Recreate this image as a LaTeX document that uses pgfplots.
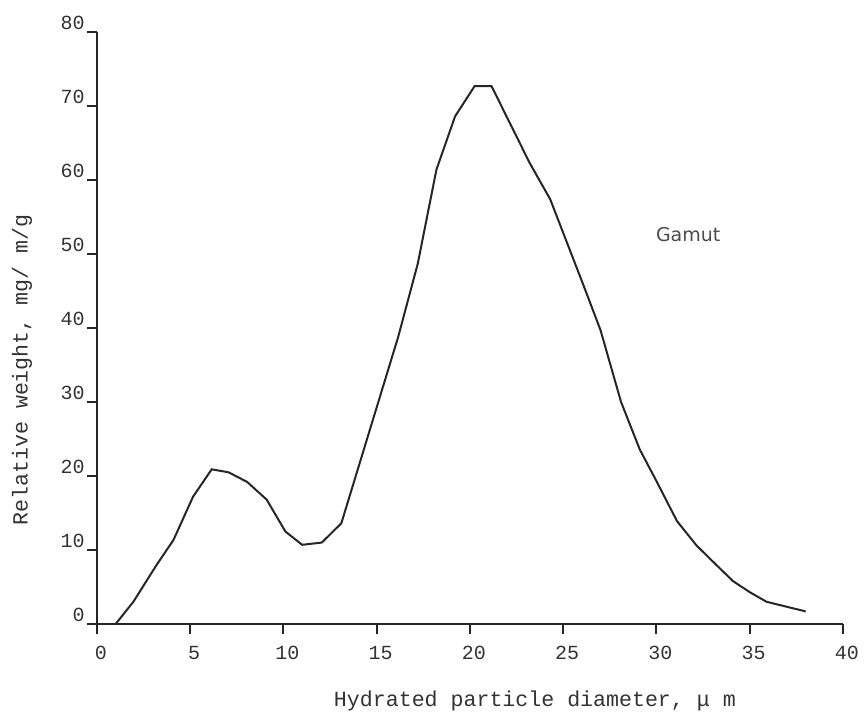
\documentclass[border=0pt]{standalone}
\usepackage{fontspec}
\setmainfont{Liberation Mono}
\newfontfamily\gamutfont{DejaVu Sans}
\usepackage{pgfplots}
\pgfplotsset{compat=1.18}
\begin{document}
\begin{tikzpicture}
\useasboundingbox (-48.5pt,-45.5pt) rectangle (383.5pt,312pt);
\begin{axis}[
  at={(0,0)}, anchor=south west,
  scale only axis, width=373pt, height=296pt,
  xmin=0, xmax=40, ymin=0, ymax=80,
  axis lines=left,
  axis line style={-, line width=1pt, color=black!85},
  xtick={0,5,...,40}, ytick={0,10,...,80},
  tick align=outside, major tick length=5pt,
  tick style={line width=1pt, color=black!85},
  /pgf/number format/assume math mode=true,
  tick label style={font=\fontsize{10}{12}\selectfont, text=black!80},
  yticklabel style={anchor=south east, inner sep=1pt},
  xticklabel style={xshift=2pt, yshift=-2.5pt},
  xlabel={Hydrated particle diameter, μ m},
  ylabel={Relative weight, mg/ m/g},
  label style={font=\fontsize{10.8}{13}\selectfont, text=black!80},
  xlabel style={at={(axis description cs:0.587,-0.13)}, anchor=center},
  ylabel style={at={(axis description cs:-0.1005,0.429)}, anchor=center},
  clip=false,
]
\addplot[line width=1pt, color=black!85] coordinates {
(1,0) (1.95,3.0) (3.2,8.0) (4.1,11.35) (5.15,17.2) (6.15,20.9) (7.05,20.5)
(8.05,19.2) (9.1,16.8) (10.1,12.5) (11,10.7) (12.05,11.0) (13.1,13.6)
(16.15,38.8) (17.2,48.7) (18.2,61.4) (19.2,68.6) (20.25,72.7) (21.15,72.7)
(23.2,62.3) (24.3,57.4) (26.05,46.0) (27,39.7) (28.1,30.0) (29.1,23.6)
(30,19.3) (31.1,13.9) (32.15,10.6) (33.2,8.0) (34.1,5.8) (35,4.3)
(35.9,3.0) (38,1.7)
};
\node[font=\gamutfont\fontsize{9.5}{11}\selectfont, text=black!70] at (axis cs:31.7,52.6) {Gamut};
\end{axis}
\end{tikzpicture}
\end{document}
